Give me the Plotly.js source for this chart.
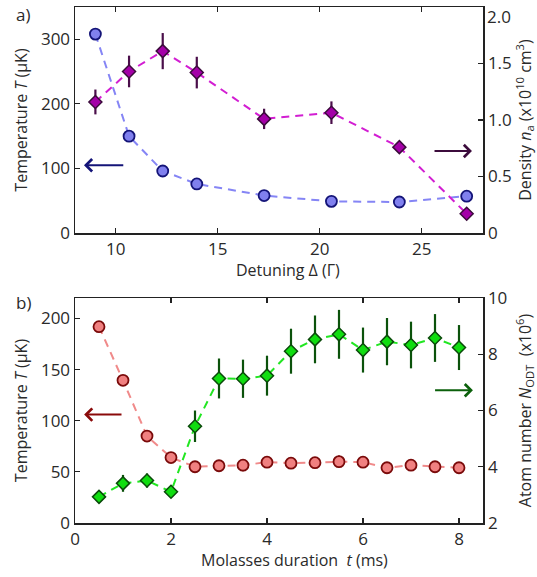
<!DOCTYPE html>
<html>
<head>
<meta charset="utf-8">
<script src="https://cdn.plot.ly/plotly-3.0.1.min.js"></script>
<style>html,body{margin:0;padding:0;background:#fff;}#chart{width:537px;height:577px;}</style>
</head>
<body>
<div id="chart"></div>
<script>
// Panel a) data
const detuning = [9.0, 10.65, 12.3, 13.97, 17.27, 20.57, 23.9, 27.2];
const tempA = [308, 150, 96, 76, 58, 49, 48, 57];
const densityA = [1.16, 1.43, 1.61, 1.42, 1.01, 1.065, 0.76, 0.17];
const densityErrA = [0.11, 0.14, 0.16, 0.14, 0.09, 0.10, 0.05, 0.05];

// Panel b) data
const duration = [0.5, 1.0, 1.5, 2.0, 2.5, 3.0, 3.5, 4.0, 4.5, 5.0, 5.5, 6.0, 6.5, 7.0, 7.5, 8.0];
const tempB = [192, 139.5, 85, 64, 55, 56, 56.5, 59.5, 58.5, 59, 60, 59.5, 54, 56.5, 55, 54];
const tempErrB = [2, 2, 2, 2, 2, 3, 6, 3, 2, 4, 6, 3, 2, 2, 2, 2];
const atomsB = [2.93, 3.41, 3.51, 3.11, 5.44, 7.14, 7.13, 7.24, 8.11, 8.53, 8.71, 8.15, 8.45, 8.33, 8.58, 8.24];
const atomsErrB = [0.1, 0.3, 0.25, 0.15, 0.56, 0.71, 0.68, 0.71, 0.8, 0.85, 0.87, 0.8, 0.84, 0.83, 0.85, 0.8];

// Tick labels
const ticksA_x = [10, 15, 20, 25];
const ticksA_yL = [0, 100, 200, 300];
const ticksA_yR = [0, 0.5, 1.0, 1.5, 2.0];
const ticksA_yR_text = ['0', '0.5', '1.0', '1.5', ''];   // top label "2.0" drawn just below the frame
const ticksA_yR_top = '2.0';
const ticksB_x = [0, 2, 4, 6, 8];
const ticksB_yL = [0, 50, 100, 150, 200];
const ticksB_yR = [2, 4, 6, 8, 10];

const FONT = '"Open Sans", "DejaVu Sans", sans-serif';
const TXT = '#2a2a2a';
const TSIZE = 16;

const traces = [
  {x: detuning, y: densityA, xaxis: 'x2', yaxis: 'y4', mode: 'lines+markers', type: 'scatter',
   line: {color: '#d21ed2', dash: '8px,6px', width: 2},
   marker: {symbol: 'diamond', size: 10, color: '#a400a8', line: {color: '#3c0c3c', width: 1.5}},
   error_y: {type: 'data', array: densityErrA, visible: true, color: '#4a0e4a', thickness: 2.2, width: 0}},
  {x: detuning, y: tempA, xaxis: 'x2', yaxis: 'y3', mode: 'lines+markers', type: 'scatter',
   line: {color: '#8585f5', dash: '8px,6px', width: 2},
   marker: {symbol: 'circle', size: 11, color: '#8080ee', line: {color: '#141478', width: 1.8}}},
  {x: duration, y: atomsB, xaxis: 'x', yaxis: 'y2', mode: 'lines+markers', type: 'scatter',
   line: {color: '#22e622', dash: '8px,6px', width: 2},
   marker: {symbol: 'diamond', size: 10, color: '#10dd10', line: {color: '#0a4a0a', width: 1.5}},
   error_y: {type: 'data', array: atomsErrB, visible: true, color: '#0b520b', thickness: 2.2, width: 0}},
  {x: duration, y: tempB, xaxis: 'x', yaxis: 'y', mode: 'lines+markers', type: 'scatter',
   line: {color: '#f08a8a', dash: '8px,6px', width: 2},
   marker: {symbol: 'circle', size: 11, color: '#f08080', line: {color: '#7a0a0a', width: 1.8}},
   error_y: {type: 'data', array: tempErrB, visible: true, color: '#7a0a0a', thickness: 2, width: 0}}
];

const axBase = {
  showline: true, linecolor: '#222', linewidth: 1.5, ticks: 'inside', ticklen: 5, tickwidth: 1.2,
  tickcolor: '#222', showgrid: false, zeroline: false, ticklabeloverflow: 'allow',
  tickfont: {family: FONT, size: 17, color: TXT}
};
function ax(extra) { return Object.assign({}, axBase, extra); }
function ttl(text, standoff) { return {text: text, font: {family: FONT, size: TSIZE, color: TXT}, standoff: standoff}; }

const topDom = [0.562, 1.0];
const botDom = [0.0, 0.436];

const layout = {
  width: 537, height: 577,
  margin: {l: 75, r: 54, t: 7, b: 54},
  paper_bgcolor: '#fff', plot_bgcolor: '#fff',
  showlegend: false,
  font: {family: FONT, color: TXT},
  xaxis: ax({domain: [0, 1], anchor: 'y', range: [0, 8.5], tickvals: ticksB_x, mirror: 'ticks'}),
  yaxis: ax({domain: botDom, anchor: 'x', range: [0, 220], tickvals: ticksB_yL,
    title: ttl('Temperature <i>T</i> (μK)', 9)}),
  yaxis2: ax({domain: botDom, anchor: 'x', overlaying: 'y', side: 'right', range: [2, 10.001], tickvals: ticksB_yR,
    title: ttl('Atom number <i>N</i><sub>ODT</sub>  (x10<sup>6</sup>)', 14)}),
  xaxis2: ax({domain: [0, 1], anchor: 'y3', range: [8, 28], tickvals: ticksA_x, mirror: 'ticks'}),
  yaxis3: ax({domain: topDom, anchor: 'x2', range: [0, 350], tickvals: ticksA_yL,
    title: ttl('Temperature <i>T</i> (μK)', 9)}),
  yaxis4: ax({domain: topDom, anchor: 'x2', overlaying: 'y3', side: 'right', range: [0, 2.0005],
    tickvals: ticksA_yR, ticktext: ticksA_yR_text,
    title: ttl('Density <i>n</i><sub>a</sub> (x10<sup>10</sup> cm<sup>3</sup>)', 14)}),
  annotations: [
    {xref: 'paper', yref: 'y4', x: 1, y: ticksA_yR[4], text: ticksA_yR_top, showarrow: false,
     font: {family: FONT, size: 17, color: TXT}, xanchor: 'left', yanchor: 'top', xshift: 2, yshift: 4},
    {xref: 'paper', yref: 'paper', x: 0.522, y: 0.490, text: 'Detuning Δ (Γ)', showarrow: false,
     font: {family: FONT, size: TSIZE, color: TXT}, xanchor: 'center', yanchor: 'middle'},
    {xref: 'paper', yref: 'paper', x: 0.539, y: -0.072, text: 'Molasses duration  <i>t</i> (ms)', showarrow: false,
     font: {family: FONT, size: TSIZE, color: TXT}, xanchor: 'center', yanchor: 'middle'},
    {xref: 'paper', yref: 'paper', x: -0.127, y: 0.985, text: 'a)', showarrow: false,
     font: {family: FONT, size: 17, color: TXT}, xanchor: 'center', yanchor: 'middle'},
    {xref: 'paper', yref: 'paper', x: -0.127, y: 0.428, text: 'b)', showarrow: false,
     font: {family: FONT, size: 17, color: TXT}, xanchor: 'center', yanchor: 'middle'},
    {xref: 'x2', yref: 'y3', x: 8.44, y: 105, axref: 'x2', ayref: 'y3', ax: 10.44, ay: 105, text: '',
     showarrow: true, arrowhead: 4, arrowsize: 1.2, arrowwidth: 2, arrowcolor: '#141478'},
    {xref: 'x2', yref: 'y4', x: 27.46, y: 0.726, axref: 'x2', ayref: 'y4', ax: 25.55, ay: 0.726, text: '',
     showarrow: true, arrowhead: 4, arrowsize: 1.2, arrowwidth: 2, arrowcolor: '#3c0c3c'},
    {xref: 'x', yref: 'y', x: 0.19, y: 106, axref: 'x', ayref: 'y', ax: 1.0, ay: 106, text: '',
     showarrow: true, arrowhead: 4, arrowsize: 1.2, arrowwidth: 2, arrowcolor: '#8a0a0a'},
    {xref: 'x', yref: 'y2', x: 8.29, y: 6.72, axref: 'x', ayref: 'y2', ax: 7.47, ay: 6.72, text: '',
     showarrow: true, arrowhead: 4, arrowsize: 1.2, arrowwidth: 2, arrowcolor: '#0b600b'}
  ]
};

Plotly.newPlot('chart', traces, layout, {staticPlot: true, displayModeBar: false});
</script>
</body>
</html>
